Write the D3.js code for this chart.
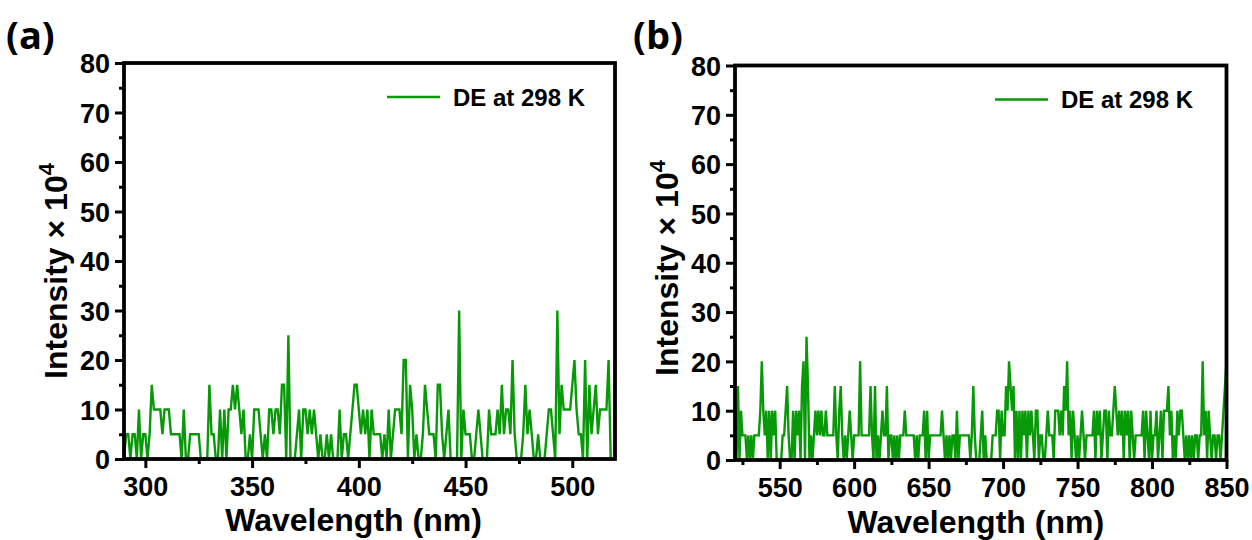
<!DOCTYPE html>
<html>
<head>
<meta charset="utf-8">
<script src="https://cdn.jsdelivr.net/npm/d3@7"></script>
<style>
  html, body { margin: 0; padding: 0; background: #fff; }
  svg { display: block; }
  text { font-family: "Liberation Sans", Arial, sans-serif; font-weight: bold; fill: #000; }
</style>
</head>
<body>
<svg id="chart" width="1252" height="540"></svg>
<script>
// ---------------- DATA ----------------
const seriesName = "DE at 298 K";
const yTicks = [0, 10, 20, 30, 40, 50, 60, 70, 80];
const xTicksA = [300, 350, 400, 450, 500];
const xTicksB = [550, 600, 650, 700, 750, 800, 850];
const wavelengthA = d3.range(290, 521);   // 1 nm sampling, 290–520 nm
const intensityA = [
  0,5,5,0,5,5,0,10,0,5,
  5,0,5,15,10,10,10,10,5,10,
  10,10,5,5,5,5,5,0,10,0,
  0,5,5,5,5,5,0,0,0,0,
  15,5,5,0,0,10,0,10,0,10,
  10,15,10,15,10,5,10,0,0,5,
  0,10,10,10,5,0,5,0,10,10,
  5,10,10,5,15,15,0,25,0,0,
  0,5,10,0,10,10,5,10,5,10,
  5,0,5,0,0,5,0,5,0,0,
  0,10,0,5,5,0,5,10,15,15,
  10,5,10,5,10,0,10,5,5,5,
  5,0,5,0,10,0,5,10,10,10,
  5,20,20,0,15,10,0,5,0,0,
  5,15,10,5,5,5,0,15,15,5,
  0,5,10,0,0,0,0,30,0,10,
  5,5,5,0,0,5,10,5,0,0,
  0,10,5,5,5,10,5,15,5,10,
  10,5,20,5,0,0,0,5,15,5,
  10,5,0,0,5,0,0,0,5,10,
  10,5,0,30,5,15,10,10,10,10,
  15,20,10,5,5,0,20,0,15,5,
  10,15,5,10,10,10,10,20,0,0,
  0
];
const wavelengthB = d3.range(520, 851);   // 1 nm sampling, 520–850 nm
const intensityB = [
  10,0,15,0,10,5,5,5,0,5,
  0,5,0,5,5,5,5,10,20,10,
  5,10,0,10,0,10,5,10,0,0,
  0,0,5,5,10,15,5,0,0,10,
  0,10,5,10,0,15,20,0,25,15,
  0,5,0,5,10,5,10,5,10,5,
  5,10,5,5,5,5,5,15,5,0,
  10,15,5,0,5,0,5,10,5,0,
  5,5,5,5,20,5,5,5,5,5,
  5,15,5,0,15,0,5,0,5,10,
  5,5,15,0,5,5,0,5,0,5,
  0,5,5,5,10,5,5,5,5,5,
  5,0,5,0,5,5,5,10,0,10,
  0,5,5,5,5,5,5,5,5,10,
  5,0,5,0,5,0,5,5,0,10,
  0,5,5,5,5,5,5,5,0,5,
  15,5,0,0,0,5,10,0,5,0,
  0,0,0,5,5,5,10,10,0,10,
  5,5,15,10,20,15,10,15,0,10,
  0,10,0,10,5,10,0,10,5,10,
  5,0,10,10,0,5,5,0,0,5,
  10,5,5,5,0,10,10,10,5,10,
  5,15,10,20,5,10,0,10,5,0,
  5,0,5,10,5,0,5,5,5,5,
  5,10,0,10,5,10,0,5,10,10,
  0,10,5,5,10,15,10,5,10,5,
  10,0,10,5,10,0,10,5,0,5,
  5,5,5,5,10,0,10,5,0,10,
  0,5,5,10,0,5,10,0,10,10,
  10,15,5,10,0,5,0,10,5,10,
  10,5,0,5,0,5,0,5,0,5,
  5,0,5,5,20,5,10,0,10,5,
  0,5,5,0,5,5,0,5,10,15,
  20
];

// ---------------- DRAW ----------------
const svg = d3.select("#chart");
const lineColor = "#079907";

function panel(cfg) {
  const g = svg.append("g");
  const x = d3.scaleLinear().domain(cfg.xDomain).range([cfg.left, cfg.right]);
  const y = d3.scaleLinear().domain([0, 80]).range([cfg.bottom, cfg.top]);
  const pts = cfg.xs.map((w, i) => [w, cfg.ys[i]]);

  // series
  g.append("path")
    .datum(pts)
    .attr("fill", "none")
    .attr("stroke", lineColor)
    .attr("stroke-width", 2.4)
    .attr("stroke-linejoin", "miter")
    .attr("d", d3.line().x(d => x(d[0])).y(d => y(d[1])));

  // minor ticks
  const minorY = d3.range(5, 80, 10);
  const gyMinor = g.append("g").attr("transform", `translate(${cfg.left},0)`)
    .call(d3.axisLeft(y).tickValues(minorY).tickSize(5).tickFormat(""));
  const gxMinor = g.append("g").attr("transform", `translate(0,${cfg.bottom})`)
    .call(d3.axisBottom(x).tickValues(cfg.minorX).tickSize(5).tickFormat(""));

  // major ticks
  const gy = g.append("g").attr("transform", `translate(${cfg.left},0)`)
    .call(d3.axisLeft(y).tickValues(yTicks).tickSize(9).tickPadding(5).tickFormat(d3.format("d")));
  const gx = g.append("g").attr("transform", `translate(0,${cfg.bottom})`)
    .call(d3.axisBottom(x).tickValues(cfg.xTicks).tickSize(9).tickPadding(9).tickFormat(d3.format("d")));

  [gyMinor, gxMinor, gy, gx].forEach(a => {
    a.select(".domain").remove();
    a.selectAll(".tick line").attr("stroke", "#000").attr("stroke-width", 3);
  });
  [gy, gx].forEach(a => {
    a.selectAll(".tick text")
      .attr("fill", "#000")
      .style("font-family", '"Liberation Sans", Arial, sans-serif')
      .style("font-weight", "bold")
      .style("font-size", "27px");
  });
  gy.selectAll(".tick text").attr("dy", "0.36em");

  // frame
  g.append("rect")
    .attr("x", cfg.left).attr("y", cfg.top)
    .attr("width", cfg.right - cfg.left).attr("height", cfg.bottom - cfg.top)
    .attr("fill", "none").attr("stroke", "#000").attr("stroke-width", 3.8);

  // axis titles
  g.append("text")
    .attr("x", (cfg.left + cfg.right) / 2 + cfg.xTitleDx)
    .attr("y", cfg.bottom + cfg.xTitleDy)
    .attr("text-anchor", "middle")
    .style("font-size", "32px")
    .text("Wavelength (nm)");

  const yt = g.append("text")
    .attr("transform", `translate(${cfg.left - 57},${cfg.yTitleCy}) rotate(-90)`)
    .attr("text-anchor", "middle")
    .style("font-size", "32px");
  yt.append("tspan").text("Intensity × 10");
  yt.append("tspan").attr("dy", "-13").style("font-size", "22px").text("4");

  // legend
  const lx = cfg.legendX;
  const ly = cfg.top + 34;
  g.append("line")
    .attr("x1", lx).attr("x2", lx + 53)
    .attr("y1", ly).attr("y2", ly)
    .attr("stroke", lineColor).attr("stroke-width", 2.4);
  g.append("text")
    .attr("x", lx + 66).attr("y", ly + 8.5)
    .style("font-size", "24px")
    .text(seriesName);

  // panel label
  g.append("text")
    .attr("x", cfg.labelX).attr("y", cfg.labelY)
    .style("font-family", '"Open Sans", "Noto Sans", sans-serif')
    .style("font-weight", "bold")
    .style("font-size", "38px")
    .text(cfg.label);
}

panel({
  left: 124, right: 615, top: 63, bottom: 459,
  xDomain: [290, 520], xTicks: xTicksA, minorX: [325, 375, 425, 475],
  xs: wavelengthA, ys: intensityA,
  xTitleDx: -16, xTitleDy: 72, yTitleCy: 271,
  legendX: 387,
  label: "(a)", labelX: 6, labelY: 49
});
panel({
  left: 735, right: 1226.5, top: 65.5, bottom: 460,
  xDomain: [520, 850], xTicks: xTicksB, minorX: [525, 575, 625, 675, 725, 775, 825],
  xs: wavelengthB, ys: intensityB,
  xTitleDx: -5, xTitleDy: 73, yTitleCy: 268,
  legendX: 995,
  label: "(b)", labelX: 633, labelY: 49
});
</script>
</body>
</html>
